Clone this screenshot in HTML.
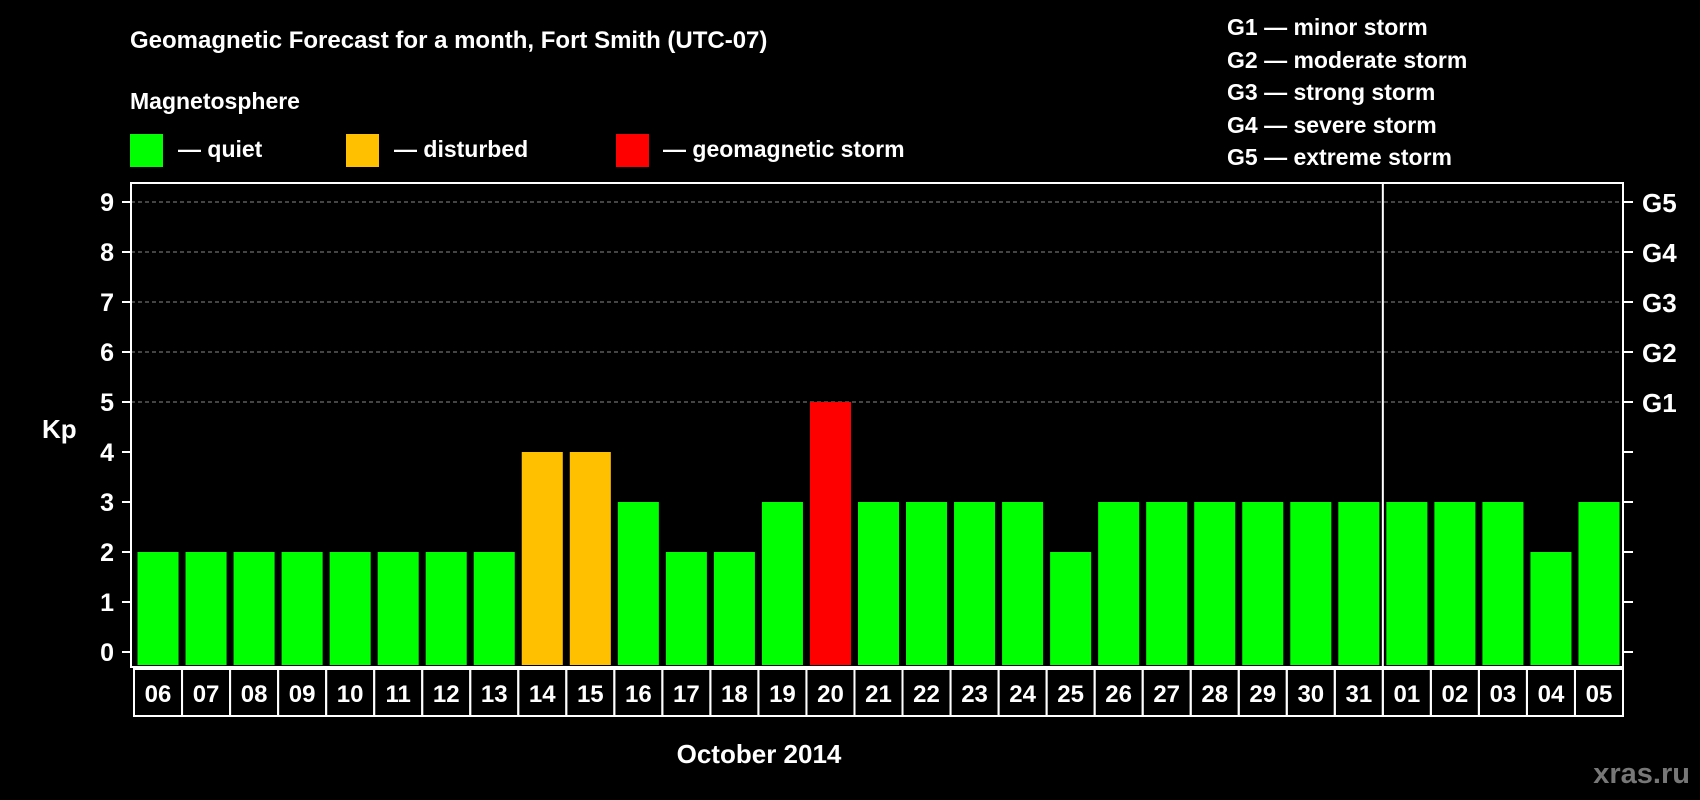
<!DOCTYPE html>
<html><head><meta charset="utf-8"><style>
body{margin:0;background:#000;}
svg{display:block;font-family:"Liberation Sans",sans-serif;font-weight:bold;}
</style></head><body>
<svg id="chart" width="1700" height="800" viewBox="0 0 1700 800">
<rect width="1700" height="800" fill="#000"/>
<text x="130" y="48" fill="#fff" font-size="24">Geomagnetic Forecast for a month, Fort Smith (UTC-07)</text>
<text x="130" y="109" fill="#fff" font-size="23">Magnetosphere</text>
<rect x="130" y="134" width="33" height="33" fill="#00ff00"/>
<text x="178" y="157" fill="#fff" font-size="23">— quiet</text>
<rect x="346" y="134" width="33" height="33" fill="#ffc000"/>
<text x="394" y="157" fill="#fff" font-size="23">— disturbed</text>
<rect x="616" y="134" width="33" height="33" fill="#ff0000"/>
<text x="663" y="157" fill="#fff" font-size="23">— geomagnetic storm</text>
<g fill="#fff" font-size="23">
<text x="1227" y="35">G1 — minor storm</text>
<text x="1227" y="68">G2 — moderate storm</text>
<text x="1227" y="100">G3 — strong storm</text>
<text x="1227" y="133">G4 — severe storm</text>
<text x="1227" y="165">G5 — extreme storm</text>
</g>
<text x="42" y="438" fill="#fff" font-size="26">Kp</text>
<text x="759" y="763" fill="#fff" font-size="26" text-anchor="middle">October 2014</text>
<text x="1690" y="783" fill="#777" font-size="29" text-anchor="end">xras.ru</text>
<g id="grid"></g><g id="bars"></g><g id="labels"></g>
<rect x="131" y="183" width="1492" height="484" fill="none" stroke="#fff" stroke-width="2"/>
</svg>
<script>
const days=["06","07","08","09","10","11","12","13","14","15","16","17","18","19","20","21","22","23","24","25","26","27","28","29","30","31","01","02","03","04","05"];
const kp=[2,2,2,2,2,2,2,2,4,4,3,2,2,3,5,3,3,3,3,2,3,3,3,3,3,3,3,3,3,2,3];
const yTicks=[0,1,2,3,4,5,6,7,8,9];
const gLabels=["G1","G2","G3","G4","G5"];
const monthBreakIndex=26;
const NS="http://www.w3.org/2000/svg";
const x0=134,x1=1623,slot=(x1-x0)/days.length;
const y=v=>652-v*50;
const xs=i=>x0+i*slot;
function mk(t,a,p){const e=document.createElementNS(NS,t);for(const k in a)e.setAttribute(k,a[k]);p.appendChild(e);return e;}
const grid=document.getElementById('grid'),bars=document.getElementById('bars'),labels=document.getElementById('labels');
yTicks.forEach(v=>{
  const t=mk('line',{x1:122,x2:131,y1:y(v),y2:y(v),stroke:'#fff','stroke-width':2},grid);
  
  
  const r=mk('line',{x1:1623,x2:1633,y1:y(v),y2:y(v),stroke:'#fff','stroke-width':2},grid);
  
  
  const l=mk('text',{x:114,y:y(v)+9,fill:'#fff','font-size':25,'text-anchor':'end'},grid);
  l.textContent=v;
  
  
  if(v>=5){
    const g=mk('line',{x1:131,x2:1623,y1:y(v),y2:y(v),stroke:'#888','stroke-width':1,'stroke-dasharray':'4,3'},grid);
    
    
    const gl=mk('text',{x:1642,y:y(v)+10,fill:'#fff','font-size':26},grid);
    gl.textContent=gLabels[v-5];
    
    
  }
});
const dv=mk('line',{x1:xs(monthBreakIndex),x2:xs(monthBreakIndex),y1:183,y2:667,stroke:'#fff','stroke-width':2},grid);


kp.forEach((v,i)=>{
  const c=v>=5?'#ff0000':v>=4?'#ffc000':'#00ff00';
  const b=mk('rect',{x:xs(i)+3.5,y:y(v),width:slot-7,height:y(0)-y(v)+13,fill:c},bars);
  
  
  const bx=mk('rect',{x:xs(i),y:669,width:slot,height:47,fill:'none',stroke:'#fff','stroke-width':2},labels);
  
  
  const t=mk('text',{x:xs(i)+slot/2,y:702,fill:'#fff','font-size':24,'text-anchor':'middle'},labels);
  t.textContent=days[i];
  
  
});
</script>
</body></html>
